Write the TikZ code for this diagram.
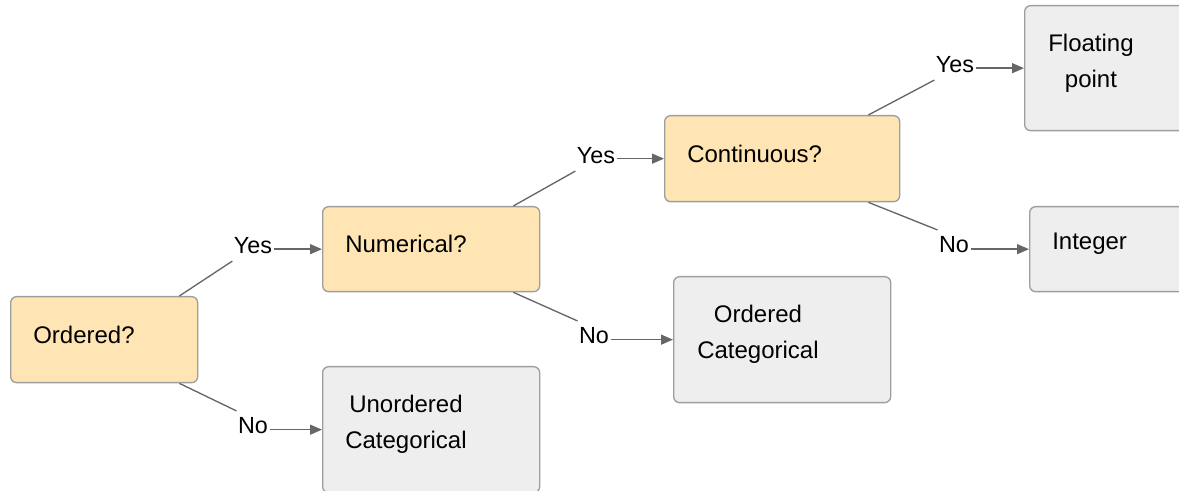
\documentclass[tikz,border=0pt]{standalone}
\usepackage{fontspec}
\setmainfont{Liberation Sans}
\usetikzlibrary{arrows.meta, positioning}
\definecolor{askfill}{HTML}{FFE5B4}
\definecolor{endfill}{HTML}{EEEEEE}
\definecolor{boxline}{HTML}{9E9E9E}
\definecolor{linkgray}{HTML}{666666}

\begin{document}
\begin{tikzpicture}[x=0.75pt, y=-0.75pt,
    box/.style={draw=boxline, line width=1pt, rounded corners=4.5pt, anchor=north west, inner sep=0pt},
    ask/.style={box, fill=askfill},
    leaf/.style={box, fill=endfill},
    txt/.style={anchor=west, align=center, inner sep=0pt, font=\fontsize{18}{27}\selectfont},
    ans/.style={inner xsep=1pt, inner ysep=5pt, font=\fontsize{17.5}{20}\selectfont},
    link/.style={draw=linkgray, line width=1pt},
    arr/.style={link, -{Triangle[length=9pt, width=7.5pt]}}]
    \useasboundingbox (0,0) rectangle (1179,491);

    \node[ask, minimum width=140.25pt, minimum height=64.5pt] (ord) at (10,296) {};
    \node[ask, minimum width=162.75pt, minimum height=63.75pt] (num) at (322,206) {};
    \node[ask, minimum width=176.25pt, minimum height=64.5pt] (cont) at (664,115) {};
    \node[leaf, minimum width=162.75pt, minimum height=93.75pt] (flt) at (1024,5) {};
    \node[leaf, minimum width=162.75pt, minimum height=63.75pt] (int) at (1029,206) {};
    \node[leaf, minimum width=162.75pt, minimum height=94.5pt] (ocat) at (673,276) {};
    \node[leaf, minimum width=162.75pt, minimum height=94.5pt] (ucat) at (322,366) {};

    \node[txt] (ordtxt) at ([shift={(23,-5)}]ord.west) {Ordered?};
    \node[txt] (numtxt) at ([shift={(23,-5)}]num.west) {Numerical?};
    \node[txt] (conttxt) at ([shift={(23,-5)}]cont.west) {Continuous?};
    \node[txt] (flttxt) at ([shift={(24,-5)}]flt.west) {Floating\\point};
    \node[txt] (inttxt) at ([shift={(23,-5)}]int.west) {Integer};
    \node[txt] (ocattxt) at ([shift={(24,-5)}]ocat.west) {Ordered\\Categorical};
    \node[txt] (ucattxt) at ([shift={(23,-5)}]ucat.west) {Unordered\\Categorical};

    \node[ans] (yes1) at (253,246) {Yes};
    \node[ans] (no1) at (253,426) {No};
    \node[ans] (yes2) at (596,156) {Yes};
    \node[ans] (no2) at (594,336) {No};
    \node[ans] (yes3) at (955,65) {Yes};
    \node[ans] (no3) at (954,245) {No};

    \draw[link] ([shift={(-19,0)}]ord.north east) -- (yes1.south west);
    \draw[arr] (yes1.east |- num.west) -- (num.west);
    \draw[link] ([shift={(-19,0)}]ord.south east) -- (no1.north west);
    \draw[arr] (no1.east |- ucat.west) -- (ucat.west);

    \draw[link] ([shift={(-27,0)}]num.north east) -- (yes2.south west);
    \draw[arr] (yes2.east |- cont.west) -- (cont.west);
    \draw[link] ([shift={(-27,0)}]num.south east) -- (no2.north west);
    \draw[arr] (no2.east |- ocat.west) -- (ocat.west);

    \draw[link] ([shift={(-32,0)}]cont.north east) -- (yes3.south west);
    \draw[arr] (yes3.east |- flt.west) -- (flt.west);
    \draw[link] ([shift={(-32,0)}]cont.south east) -- (no3.north west);
    \draw[arr] (no3.east |- int.west) -- (int.west);
\end{tikzpicture}
\end{document}
